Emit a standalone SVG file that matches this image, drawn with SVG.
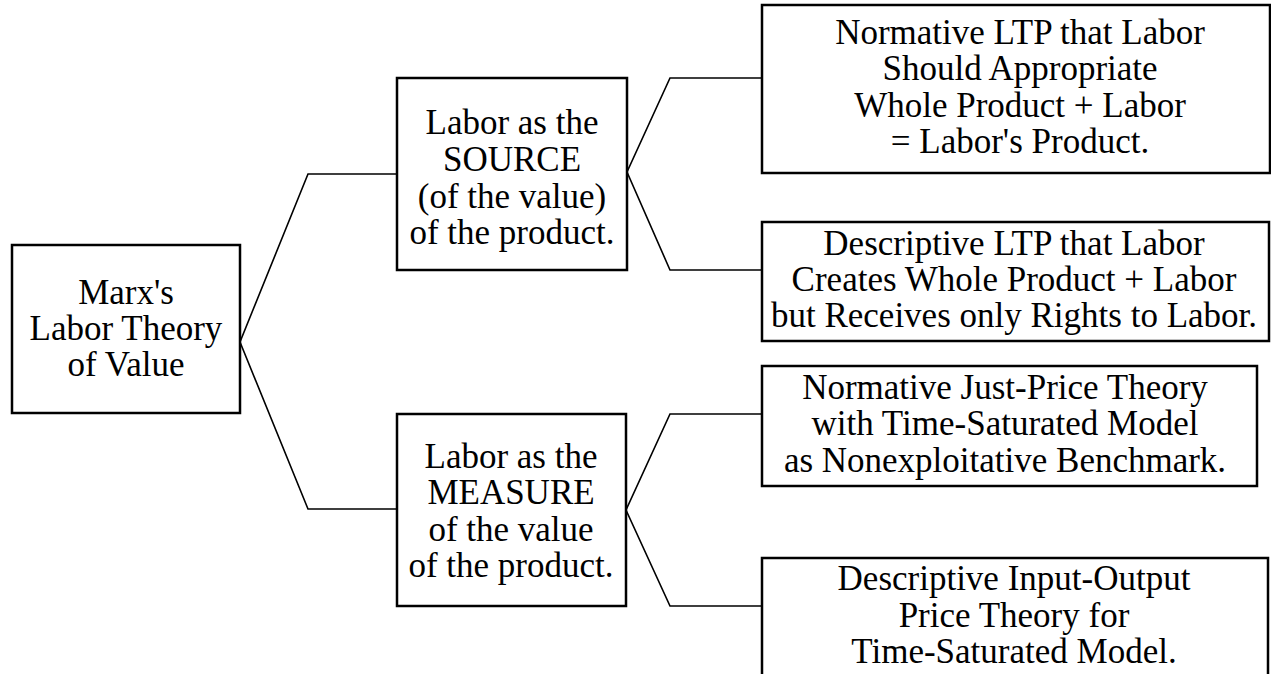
<svg xmlns="http://www.w3.org/2000/svg" width="1271" height="674" viewBox="0 0 1271 674">
<style>
.box{fill:#fff;stroke:#000;stroke-width:2.5}
.conn{fill:none;stroke:#000;stroke-width:1.6}
.t{font-family:"Liberation Serif","Times New Roman",serif;font-size:35px;fill:#000;text-anchor:middle}
</style>
<rect width="1271" height="674" fill="#fff"/>
<g id="connectors">
<path class="conn" d="M397,174 H308 L240,342 L308,509 H397"/>
<path class="conn" d="M762,78 H670 L627,172 L670,270 H762"/>
<path class="conn" d="M762,414 H670 L626,510 L670,606 H762"/>
</g>
<g id="marx">
<rect class="box" x="12" y="245" width="228" height="168"/>
<text class="t" x="126" y="304">Marx's</text>
<text class="t" x="126" y="340">Labor Theory</text>
<text class="t" x="126" y="376">of Value</text>
</g>
<g id="source">
<rect class="box" x="397" y="78" width="230" height="192"/>
<text class="t" x="512" y="134">Labor as the</text>
<text class="t" x="512" y="171">SOURCE</text>
<text class="t" x="512" y="208">(of the value)</text>
<text class="t" x="512" y="244">of the product.</text>
</g>
<g id="measure">
<rect class="box" x="397" y="414" width="229" height="192"/>
<text class="t" x="511" y="468">Labor as the</text>
<text class="t" x="511" y="504">MEASURE</text>
<text class="t" x="511" y="541">of the value</text>
<text class="t" x="511" y="577">of the product.</text>
</g>
<g id="normative-ltp">
<rect class="box" x="762" y="5" width="508" height="168"/>
<text class="t" x="1020" y="44">Normative LTP that Labor</text>
<text class="t" x="1020" y="80">Should Appropriate</text>
<text class="t" x="1020" y="117">Whole Product + Labor</text>
<text class="t" x="1020" y="153">= Labor's Product.</text>
</g>
<g id="descriptive-ltp">
<rect class="box" x="762" y="222" width="507" height="119"/>
<text class="t" x="1014" y="255">Descriptive LTP that Labor</text>
<text class="t" x="1014" y="291">Creates Whole Product + Labor</text>
<text class="t" x="1014" y="327">but Receives only Rights to Labor.</text>
</g>
<g id="normative-just-price">
<rect class="box" x="762" y="366" width="495" height="120"/>
<text class="t" x="1005" y="399">Normative Just-Price Theory</text>
<text class="t" x="1005" y="435">with Time-Saturated Model</text>
<text class="t" x="1005" y="472">as Nonexploitative Benchmark.</text>
</g>
<g id="descriptive-io">
<rect class="box" x="762" y="558" width="506" height="140"/>
<text class="t" x="1014" y="590">Descriptive Input-Output</text>
<text class="t" x="1014" y="627">Price Theory for</text>
<text class="t" x="1014" y="663">Time-Saturated Model.</text>
</g>
</svg>
